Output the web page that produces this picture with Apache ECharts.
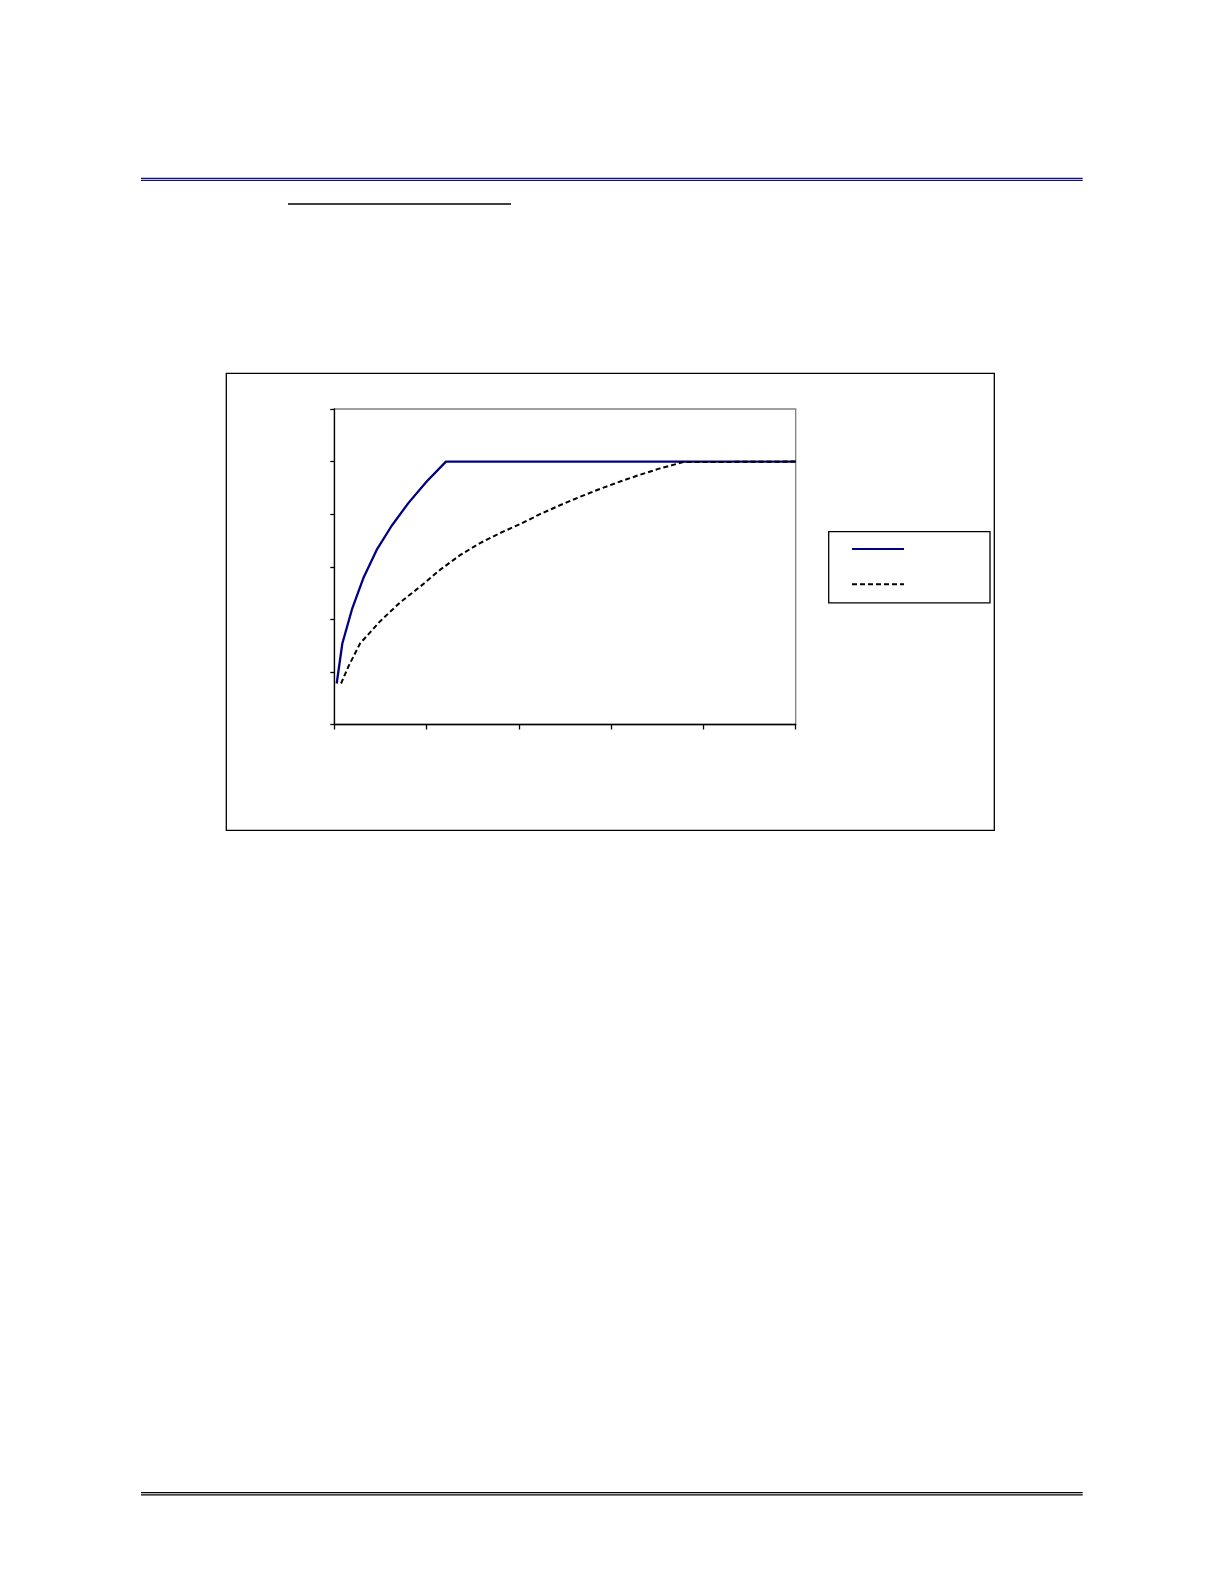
<!DOCTYPE html>
<html>
<head>
<meta charset="utf-8">
<script src="https://cdn.jsdelivr.net/npm/echarts@6/dist/echarts.min.js"></script>
<style>
html,body{margin:0;padding:0;background:#fff;}
#chart{width:1224px;height:1584px;}
</style>
</head>
<body>
<div id="chart"></div>
<script>
// Data
const seriesNames = ['Series 1', 'Series 2'];
const solidX  = [0.26, 0.87, 1.95, 3.14, 4.59, 6.22, 8.02, 10.01, 12.1, 50];
const solidY  = [0.78, 1.54, 2.21, 2.78, 3.32, 3.78, 4.21, 4.62, 5.0, 5.0];
const dashedX = [0.73, 1.52, 2.79, 4.95, 7.12, 9.29, 11.45, 13.62, 15.79, 17.96, 20.12, 22.29, 24.46, 26.63, 28.79, 30.96, 33.13, 35.29, 37.82, 50];
const dashedY = [0.78, 1.10, 1.54, 1.96, 2.32, 2.62, 2.94, 3.22, 3.45, 3.64, 3.81, 4.00, 4.17, 4.33, 4.48, 4.62, 4.75, 4.87, 4.99, 5.0];
const xMin = 0, xMax = 50, xStep = 10;
const yMin = 0, yMax = 6, yStep = 1;

const pair = (xs, ys) => xs.map((x, i) => [x, ys[i]]);

const chart = echarts.init(document.getElementById('chart'), null, {renderer: 'canvas'});
chart.setOption({
  animation: false,
  backgroundColor: '#ffffff',
  grid: {
    left: 334.3, top: 409, width: 461.4, height: 315.5,
    show: true, borderColor: '#808080', borderWidth: 1.3, backgroundColor: 'transparent',
    containLabel: false
  },
  xAxis: {
    type: 'value', min: xMin, max: xMax, interval: xStep,
    axisLine: {show: true, lineStyle: {color: '#000', width: 1.3}},
    axisTick: {show: true, inside: false, length: 5, lineStyle: {color: '#000', width: 1.3}},
    axisLabel: {show: false},
    splitLine: {show: false}
  },
  yAxis: {
    type: 'value', min: yMin, max: yMax, interval: yStep,
    axisLine: {show: true, lineStyle: {color: '#000', width: 1.3}},
    axisTick: {show: true, inside: false, length: 4, lineStyle: {color: '#000', width: 1.3}},
    axisLabel: {show: false},
    splitLine: {show: false}
  },
  legend: {
    show: true,
    orient: 'vertical',
    left: 828.7, top: 531.7,
    padding: [10.3, 85, 13, 22.3],
    itemWidth: 52, itemHeight: 14, itemGap: 22.7,
    itemStyle: {opacity: 0},
    borderColor: '#000', borderWidth: 1.3, backgroundColor: '#fff',
    formatter: () => '',
    textStyle: {fontSize: 1, color: '#fff'},
    data: seriesNames
  },
  series: [
    {
      name: seriesNames[0], type: 'line', data: pair(solidX, solidY),
      showSymbol: false, symbol: 'none', smooth: false,
      lineStyle: {color: '#000080', width: 2.3, type: 'solid'},
      itemStyle: {color: '#000080'},
      z: 3
    },
    {
      name: seriesNames[1], type: 'line', data: pair(dashedX, dashedY),
      showSymbol: false, symbol: 'none', smooth: false,
      lineStyle: {color: '#000000', width: 2, type: [5, 3]},
      itemStyle: {color: '#000000'},
      z: 4
    }
  ],
  graphic: [
    {type: 'line', shape: {x1: 141, y1: 178.3, x2: 1082.7, y2: 178.3}, style: {stroke: '#10107a', lineWidth: 1.3}},
    {type: 'line', shape: {x1: 141, y1: 180.3, x2: 1082.7, y2: 180.3}, style: {stroke: '#10107a', lineWidth: 1.3}},
    {type: 'line', shape: {x1: 288, y1: 204, x2: 511, y2: 204}, style: {stroke: '#000', lineWidth: 1.3}},
    {type: 'rect', shape: {x: 226.3, y: 373.3, width: 768, height: 457}, style: {fill: 'none', stroke: '#000', lineWidth: 1.3}, z: -1},
    {type: 'line', shape: {x1: 141, y1: 1492.7, x2: 1082.7, y2: 1492.7}, style: {stroke: '#000', lineWidth: 1.3}},
    {type: 'line', shape: {x1: 141, y1: 1494.9, x2: 1082.7, y2: 1494.9}, style: {stroke: '#000', lineWidth: 1.3}}
  ]
});
</script>
</body>
</html>
